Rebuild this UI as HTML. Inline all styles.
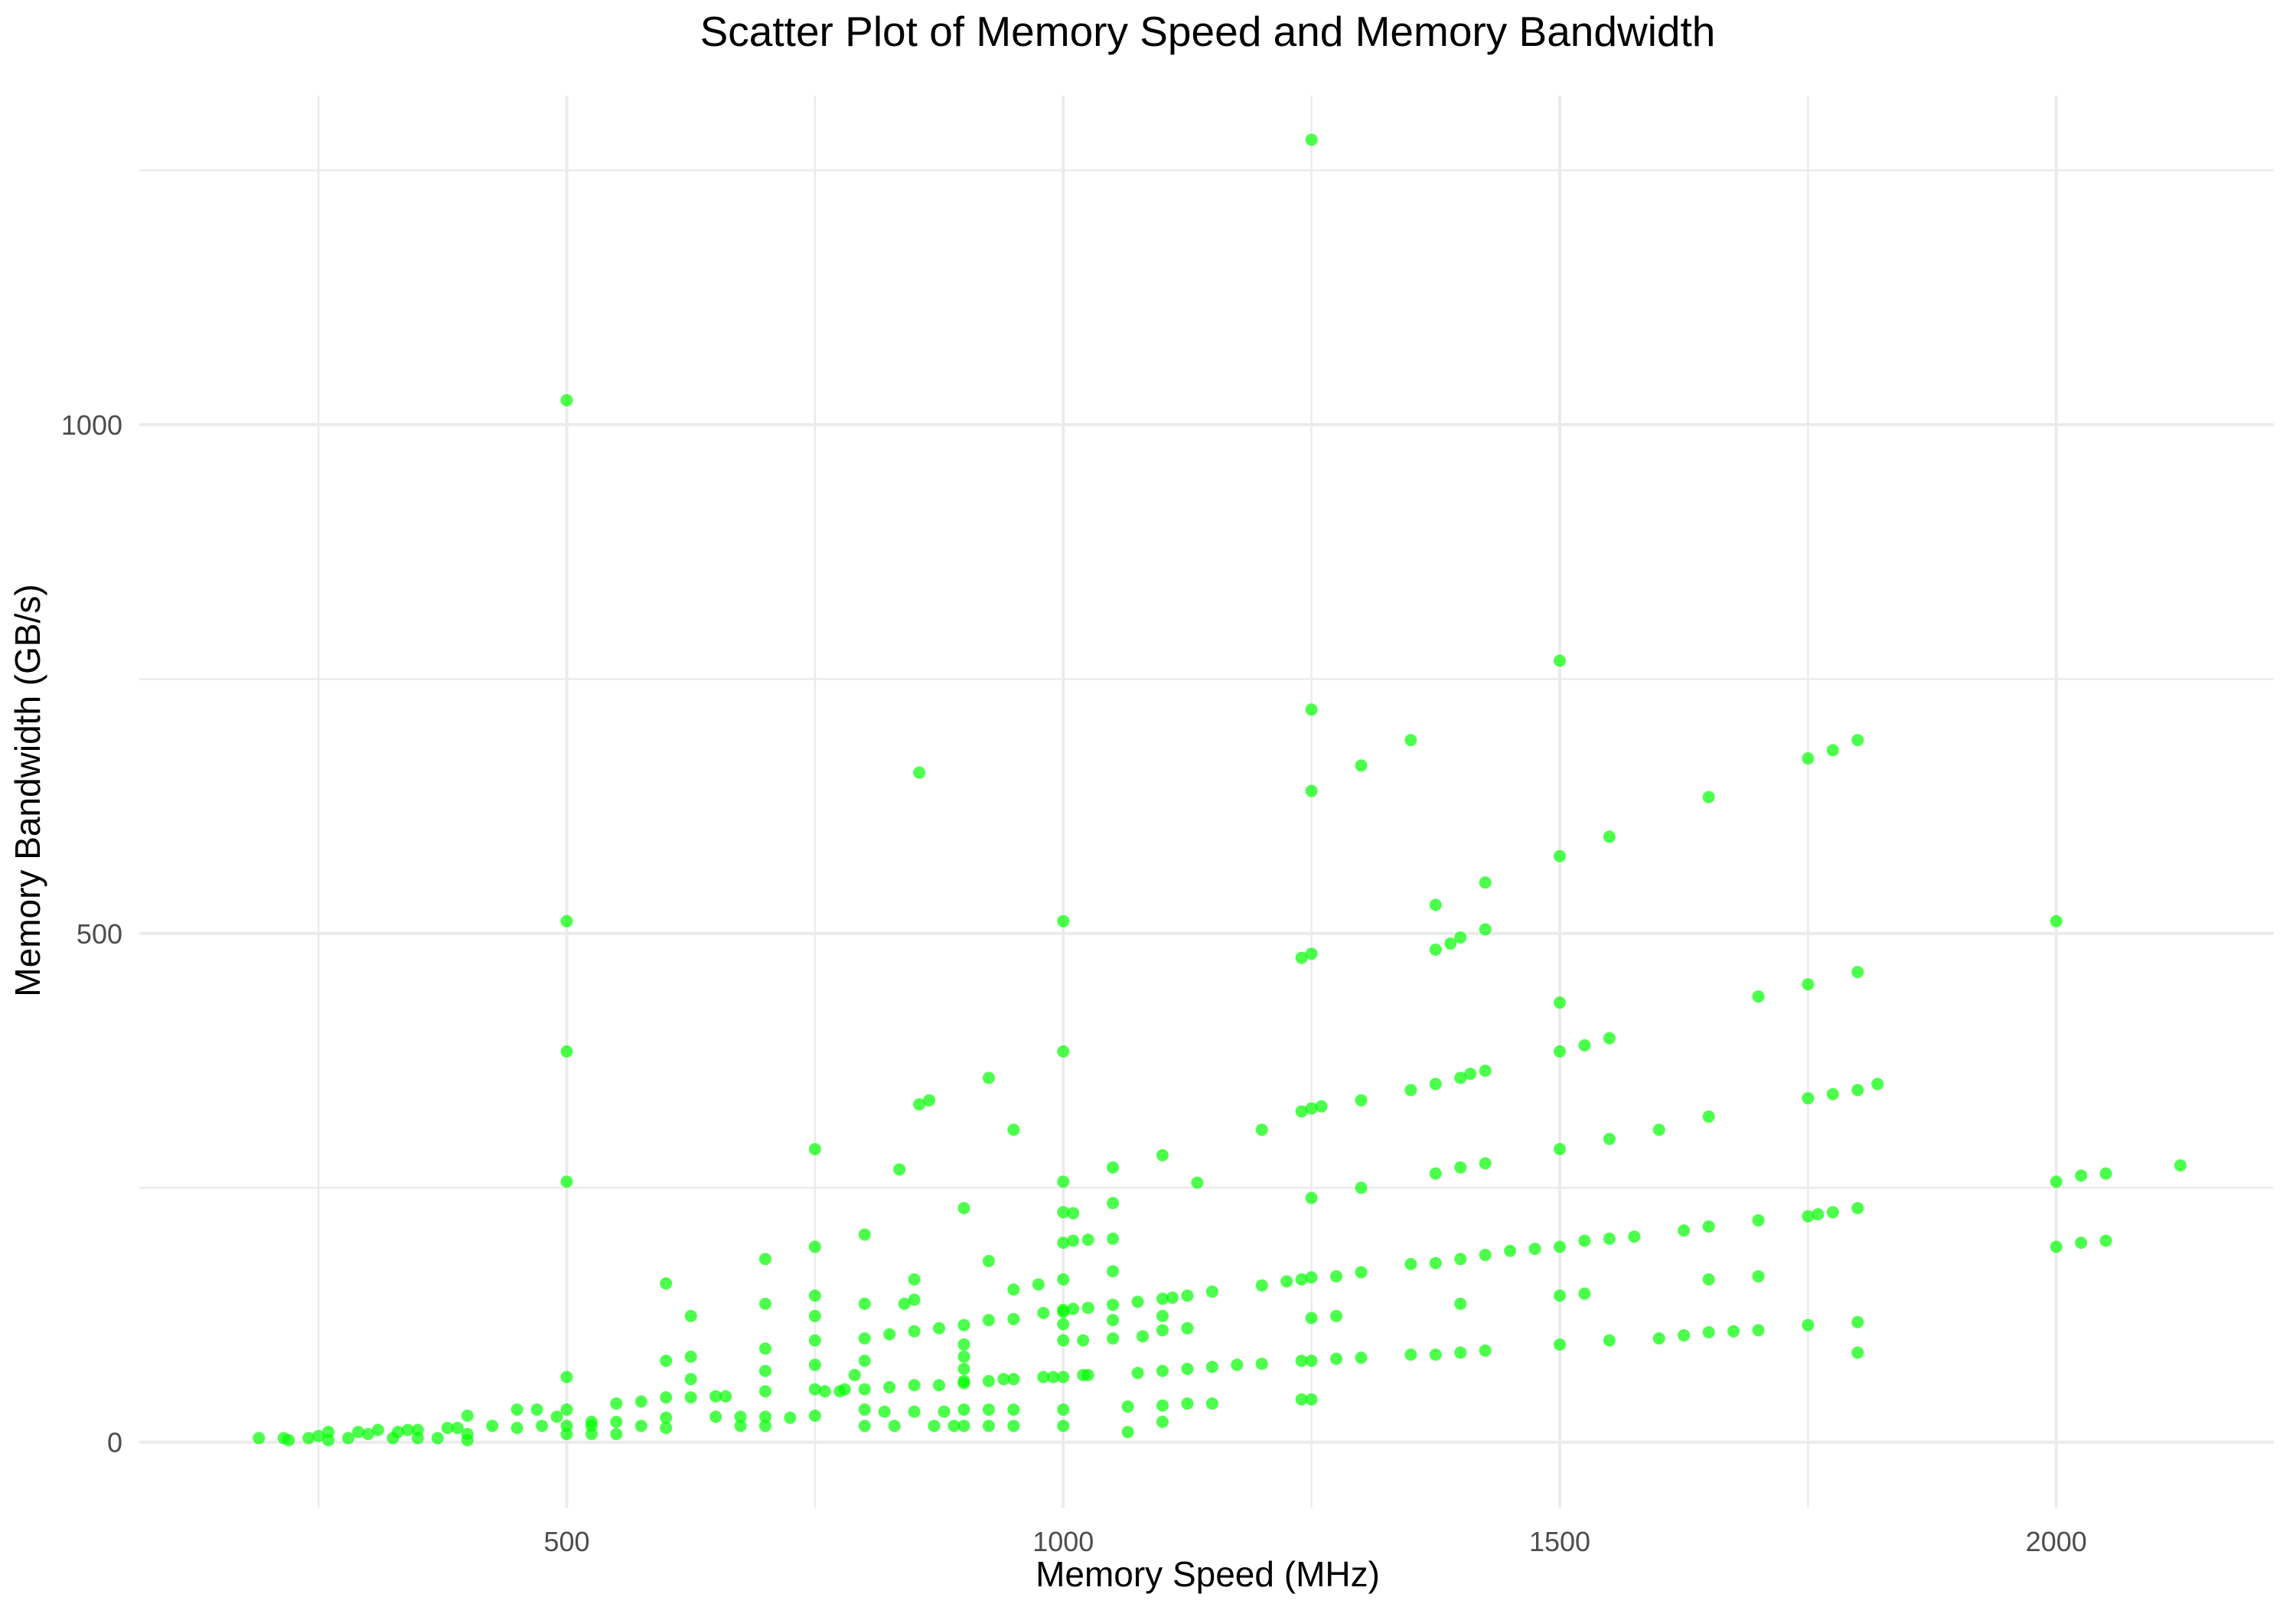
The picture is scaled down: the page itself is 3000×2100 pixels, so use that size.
<!DOCTYPE html>
<html><head><meta charset="utf-8"><style>
html,body{margin:0;padding:0;background:#fff;}
svg{display:block;font-family:"Liberation Sans",sans-serif;}
</style></head><body>
<svg id="chart" width="3000" height="2100" viewBox="0 0 3000 2100">
<rect x="0" y="0" width="3000" height="2100" fill="#fff"/>
<g id="grid"></g>
<g id="points"></g>
<g id="axes"></g>
<text x="1578" y="60" text-anchor="middle" font-size="55" fill="#000">Scatter Plot of Memory Speed and Memory Bandwidth</text>
<text x="1578" y="2073" text-anchor="middle" font-size="46" fill="#000">Memory Speed (MHz)</text>
<text transform="translate(52,1033) rotate(-90)" text-anchor="middle" font-size="46" fill="#000">Memory Bandwidth (GB/s)</text>
</svg>
<script>
const xTicks=[500,1000,1500,2000];
const xMinor=[250,750,1250,1750];
const yTicks=[0,500,1000];
const yMinor=[250,750,1250];
const speeds=[1250,500,500,500,500,500,500,500,500,1500,1250,1300,1350,855,1250,1800,1775,1750,1650,1550,1500,1425,1375,1425,1400,1390,1375,1250,1240,2000,1000,1800,1750,1700,1500,1550,1525,1500,1000,925,865,855,950,750,1425,1410,1400,1375,1350,1300,1260,1250,1240,1200,1820,1800,1775,1750,1650,1600,1550,1500,1425,1400,1375,1300,1250,1100,1050,1000,835,900,1135,2125,2050,2025,2000,1800,1775,1760,1750,1700,1650,1625,1575,1550,1525,1500,1475,1450,1425,1400,1375,1350,1300,1275,1250,1240,1225,1200,1150,1125,1110,1100,1075,1050,1025,1010,1000,980,950,925,900,875,850,825,800,2050,2025,2000,1800,1750,1700,1675,1650,1625,1600,1550,1500,1800,1425,1400,1375,1350,1300,1275,1250,1240,1200,1175,1150,1125,1100,1075,1025,1000,990,980,950,940,925,900,875,850,825,800,775,760,1650,1700,1500,1525,1400,1275,1250,1050,1125,1050,1100,1080,1050,1050,1050,1000,1010,1000,1010,1025,1000,1000,1000,1000,975,950,925,900,900,900,900,925,925,950,950,850,850,840,800,800,800,800,800,790,780,820,830,850,870,880,890,750,750,750,750,750,750,750,725,700,700,700,700,700,700,700,675,675,660,650,650,625,625,625,625,600,600,600,600,600,575,575,550,550,550,525,525,525,490,470,475,450,450,425,400,400,400,390,380,370,350,350,340,330,325,310,300,290,280,260,260,250,240,220,215,190,1065,1065,1100,1100,1125,1150,1250,1240,1000,1020,1100,900,900,1000,1020];
const bandwidths=[1280,1024,512,384,256,64,32,16,8,768,720,665,690,658,640,690,680,672,634,595,576,550,528,504,496,490,484,480,476,512,512,462,450,438,432,397,390,384,384,358,336,332,307,288,365,362,358,352,346,336,330,328,325,307,352,346,342,338,320,307,298,288,274,270,264,250,240,282,270,256,268,230,255,272,264,262,256,230,226,224,222,218,212,208,202,200,198,192,190,188,184,180,176,175,167,163,162,160,158,154,148,144,142,141,138,135,132,131,128,127,121,120,115,112,109,106,102,198,196,192,118,115,110,109,108,105,102,100,96,88,90,88,86,86,83,82,80,80,77,76,74,72,70,68,66,64,64,64,62,62,60,58,56,56,54,52,50,50,160,163,144,146,136,124,122,120,112,102,110,104,235,200,168,226,225,196,198,199,160,116,32,16,155,150,178,72,96,32,16,32,16,16,32,160,140,136,136,204,80,32,16,66,52,30,16,30,16,30,16,192,144,124,100,76,52,26,24,180,136,92,70,50,25,16,25,16,45,45,25,124,84,62,44,156,80,44,24,14,40,16,38,20,8,20,8,16,25,32,16,32,14,16,26,8,2,14,14,4,12,4,12,10,4,12,8,10,4,10,2,6,4,2,4,4,10,35,20,36,38,38,42,42,100,100,124,84,60,130,66];
const X0=182,X1=2971,Y0=125,Y1=1970;
function xs(v){return 740.5+(v-500)*1.2975;}
function ys(v){return 1884.6-v*1.3297;}
const NS='http://www.w3.org/2000/svg';
const grid=document.getElementById('grid');
const axes=document.getElementById('axes');
const pts=document.getElementById('points');
function line(x1,y1,x2,y2,w,name){
  const l=document.createElementNS(NS,'line');
  l.setAttribute('x1',x1);l.setAttribute('y1',y1);l.setAttribute('x2',x2);l.setAttribute('y2',y2);
  l.setAttribute('stroke','#ebebeb');l.setAttribute('stroke-width',w);
  
  
  grid.appendChild(l);
}
xMinor.forEach(v=>line(xs(v),Y0,xs(v),Y1,2.5,'x-minor-gridline'));
yMinor.forEach(v=>line(X0,ys(v),X1,ys(v),2.5,'y-minor-gridline'));
xTicks.forEach(v=>{
  line(xs(v),Y0,xs(v),Y1,4,'x-major-gridline');
  const t=document.createElementNS(NS,'text');
  t.setAttribute('x',xs(v));t.setAttribute('y',2027);t.setAttribute('text-anchor','middle');
  t.setAttribute('font-size','36');t.setAttribute('fill','#4d4d4d');t.textContent=v;
  
  
  axes.appendChild(t);
});
yTicks.forEach(v=>{
  line(X0,ys(v),X1,ys(v),4,'y-major-gridline');
  const t=document.createElementNS(NS,'text');
  t.setAttribute('x',160);t.setAttribute('y',ys(v)+13);t.setAttribute('text-anchor','end');
  t.setAttribute('font-size','36');t.setAttribute('fill','#4d4d4d');t.textContent=v;
  
  
  axes.appendChild(t);
});
for(let i=0;i<speeds.length;i++){
  const c=document.createElementNS(NS,'circle');
  c.setAttribute('cx',xs(speeds[i]));c.setAttribute('cy',ys(bandwidths[i]));c.setAttribute('r',8);
  c.setAttribute('fill','#00ff00');c.setAttribute('fill-opacity','0.7');
  
  
  pts.appendChild(c);
}
</script>
</body></html>
